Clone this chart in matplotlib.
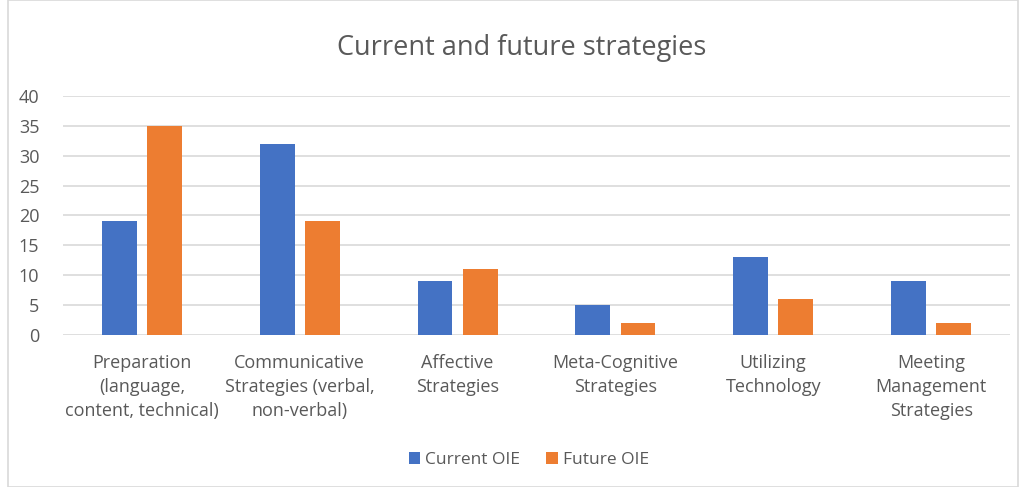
import matplotlib
matplotlib.use("Agg")
import matplotlib.pyplot as plt
import numpy as np
from matplotlib.patches import Rectangle

categories = ["Preparation\n(language,\ncontent, technical)",
              "Communicative\nStrategies (verbal,\nnon-verbal)",
              "Affective\nStrategies",
              "Meta-Cognitive\nStrategies",
              "Utilizing\nTechnology",
              "Meeting\nManagement\nStrategies"]
current_oie = [19, 32, 9, 5, 13, 9]
future_oie = [35, 19, 11, 2, 6, 2]
series_names = ["Current OIE", "Future OIE"]
yticks = [0, 5, 10, 15, 20, 25, 30, 35, 40]

plt.rcParams['font.family'] = ['Open Sans', 'DejaVu Sans']
text_color = "#595959"

fig = plt.figure(figsize=(10.27, 4.87), dpi=100)
ax = fig.add_axes([63/1027, 1-335/487, (1010-63)/1027, (335-96)/487])

x = np.arange(len(categories))
w = 0.22
off = 0.143
ax.bar(x - off, current_oie, w, color="#4472C4", label=series_names[0], zorder=3)
ax.bar(x + off, future_oie, w, color="#ED7D31", label=series_names[1], zorder=3)

ax.set_xlim(-0.5, len(categories) - 0.5)
ax.set_ylim(0, 40)
ax.set_yticks(yticks)
ax.yaxis.grid(True, color="#d9d9d9", linewidth=1.2, zorder=0)
ax.set_axisbelow(True)
for s in ax.spines.values():
    s.set_visible(False)
ax.tick_params(axis='both', length=0, colors=text_color)
ax.tick_params(axis='y', pad=17, labelsize=13)
ax.set_xticks(x)
ax.set_xticklabels(categories, linespacing=1.42)
ax.tick_params(axis='x', pad=14, labelsize=13)

fig.text(522/1027, 1-48/487, "Current and future strategies", ha='center', va='center',
         fontsize=19.5, color=text_color)

leg = fig.legend(loc='center', bbox_to_anchor=(529/1027, 1-460/487), ncol=2, frameon=False,
                 fontsize=12.5, handlelength=0.65, handleheight=0.65, handletextpad=0.3,
                 columnspacing=1.5)
for t in leg.get_texts():
    t.set_color(text_color)

fig.patches.append(Rectangle((8/1027, 0), 1010/1027, 0.999, transform=fig.transFigure,
                             fill=False, edgecolor="#d9d9d9", linewidth=1.2))

fig.savefig("out.png", dpi=100)
